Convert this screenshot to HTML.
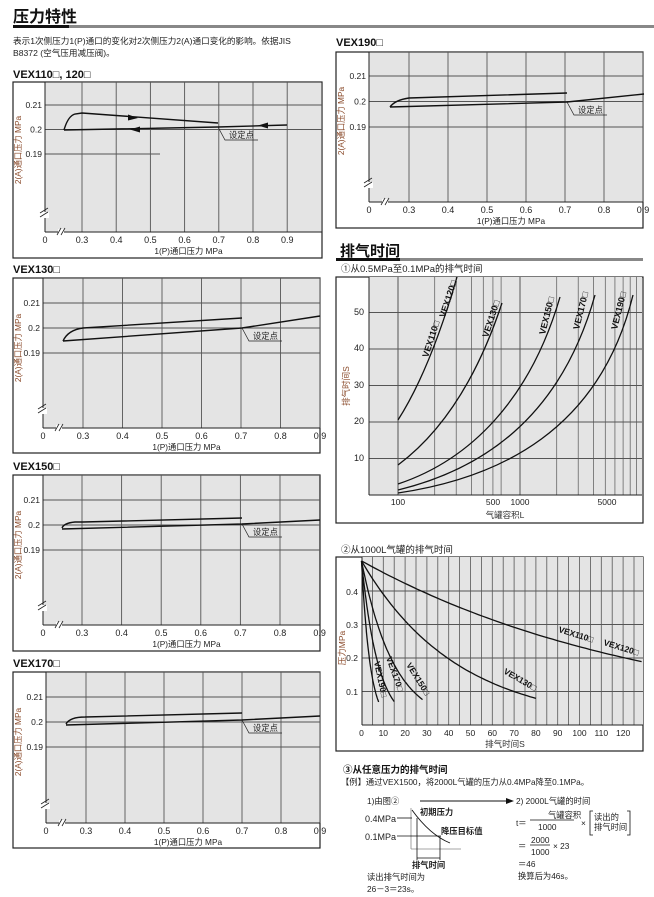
<!DOCTYPE html>
<html><head><meta charset="utf-8">
<style>
html,body{margin:0;padding:0;background:#fff;}
svg{display:block;font-family:"Liberation Sans","Noto Sans CJK SC",sans-serif;}
</style></head>
<body>
<svg id="s" width="654" height="897" viewBox="0 0 654 897" xmlns="http://www.w3.org/2000/svg">
<rect width="654" height="897" fill="#fff"/>
<text x="13" y="22" font-size="16" font-weight="bold" fill="#111">压力特性</text>
<rect x="13" y="25" width="56" height="3" fill="#111"/>
<rect x="69" y="25" width="585" height="3" fill="#888"/>
<text x="13" y="44" font-size="8.6" fill="#222">表示1次侧压力1(P)通口的变化对2次侧压力2(A)通口变化的影响。依据JIS</text>
<text x="13" y="56" font-size="8.6" fill="#222">B8372 (空气压用减压阀)。</text>
<text x="13" y="78" font-size="11" font-weight="bold" fill="#111">VEX110□, 120□</text>
<text x="13" y="273" font-size="11" font-weight="bold" fill="#111">VEX130□</text>
<text x="13" y="470" font-size="11" font-weight="bold" fill="#111">VEX150□</text>
<text x="13" y="667" font-size="11" font-weight="bold" fill="#111">VEX170□</text>
<text x="336" y="46" font-size="11" font-weight="bold" fill="#111">VEX190□</text>
<g id="pc"></g>

<text x="340" y="256" font-size="15" font-weight="bold" fill="#111">排气时间</text>
<rect x="336" y="258" width="64" height="3" fill="#111"/>
<rect x="400" y="258" width="243" height="3" fill="#888"/>

<text x="341" y="272" font-size="9.5" fill="#222">①从0.5MPa至0.1MPa的排气时间</text>
<rect x="336" y="277" width="307" height="246" fill="#fff" stroke="#222" stroke-width="1.2"/>
<rect x="369" y="277" width="273" height="218" fill="#e4e4e4"/>
<g id="ex1"></g>
<g fill="none" stroke="#111" stroke-width="1.3">
<path d="M398,420 Q430,370 457,277"/>
<path d="M398,465 Q465,415 502,303"/>
<path d="M398,484 C470,460 530,400 560,297"/>
<path d="M398,490 C480,470 560,420 595,295"/>
<path d="M398,493 C500,478 600,430 633,295"/>
</g>
<g font-size="9" font-weight="bold" fill="#111">
<text transform="translate(428,358) rotate(-72)">VEX110□</text>
<text transform="translate(445,318) rotate(-72)">VEX120□</text>
<text transform="translate(488,338) rotate(-72)">VEX130□</text>
<text transform="translate(545,335) rotate(-76)">VEX150□</text>
<text transform="translate(579,330) rotate(-76)">VEX170□</text>
<text transform="translate(617,330) rotate(-76)">VEX190□</text>
</g>
<g font-size="9" fill="#222" text-anchor="end">
<text x="364" y="315">50</text><text x="364" y="351">40</text><text x="364" y="388">30</text><text x="364" y="424">20</text><text x="364" y="461">10</text>
</g>
<g font-size="8.5" fill="#222" text-anchor="middle">
<text x="398" y="505">100</text><text x="493" y="505">500</text><text x="520" y="505">1000</text><text x="607" y="505">5000</text>
<text x="505" y="518" fill="#333">气罐容积L</text>
</g>
<text transform="translate(349,386) rotate(-90)" font-size="8.5" fill="#8a4a2a" text-anchor="middle">排气时间S</text>

<text x="341" y="553" font-size="9.5" fill="#222">②从1000L气罐的排气时间</text>
<rect x="336" y="557" width="307" height="194" fill="#fff" stroke="#222" stroke-width="1.2"/>
<rect x="362" y="557" width="281" height="168" fill="#e4e4e4"/>
<g id="ex2"></g>
<g font-size="8.5" font-weight="bold" fill="#111">
<text transform="translate(558,632) rotate(17)">VEX110□</text>
<text transform="translate(603,645) rotate(17)">VEX120□</text>
<text transform="translate(503,673) rotate(30)">VEX130□</text>
<text transform="translate(406,665) rotate(58)">VEX150□</text>
<text transform="translate(386,658) rotate(70)">VEX170□</text>
<text transform="translate(374,662) rotate(78)">VEX190□</text>
</g>
<g font-size="8.5" fill="#222" text-anchor="end">
<text x="358" y="595">0.4</text><text x="358" y="628">0.3</text><text x="358" y="661">0.2</text><text x="358" y="695">0.1</text>
</g>
<g id="ex2x" font-size="8.5" fill="#222" text-anchor="middle"></g>
<text x="505" y="747" font-size="8.5" fill="#333" text-anchor="middle">排气时间S</text>
<text transform="translate(345,648) rotate(-90)" font-size="8.5" fill="#8a4a2a" text-anchor="middle">压力MPa</text>

<text x="343" y="773" font-size="9.5" font-weight="bold" fill="#111">③从任意压力的排气时间</text>
<text x="341" y="785" font-size="8.3" fill="#222">【例】通过VEX1500，将2000L气罐的压力从0.4MPa降至0.1MPa。</text>
<g font-size="8.3" fill="#222">
<text x="367" y="804">1)由图②</text>
<line x1="420" y1="801" x2="510" y2="801" stroke="#111" stroke-width="1"/>
<path d="M514,801 L506,798 L506,804Z" fill="#111"/>
<text x="516" y="804">2) 2000L气罐的时间</text>
<line x1="411" y1="808" x2="411" y2="849" stroke="#888" stroke-width="0.8"/>
<line x1="411" y1="849" x2="461" y2="849" stroke="#888" stroke-width="0.8"/>
<path d="M412,810 Q430,835 450,843" fill="none" stroke="#111" stroke-width="0.9"/>
<text x="365" y="822" font-size="9">0.4MPa</text><line x1="397" y1="818" x2="412" y2="818" stroke="#111" stroke-width="0.8"/>
<text x="420" y="815" font-weight="bold">初期压力</text>
<text x="365" y="840" font-size="9">0.1MPa</text><line x1="397" y1="836" x2="441" y2="836" stroke="#111" stroke-width="0.8"/>
<text x="441" y="834" font-weight="bold">降压目标值</text>
<path d="M417,818 V860 M440,836 V860 M417,858 H440" fill="none" stroke="#111" stroke-width="0.8"/>
<text x="412" y="868" font-weight="bold">排气时间</text>
<text x="367" y="880">读出排气时间为</text>
<text x="367" y="892">26－3＝23s。</text>
<text x="516" y="826">t＝</text>
<text x="548" y="818">气罐容积</text>
<line x1="530" y1="820" x2="574" y2="820" stroke="#111" stroke-width="0.8"/>
<text x="538" y="830">1000</text>
<text x="581" y="826">×</text>
<path d="M593,811 H590 V835 H593 M627,811 H630 V835 H627" fill="none" stroke="#111" stroke-width="0.8"/>
<text x="594" y="820">读出的</text><text x="594" y="830">排气时间</text>
<text x="518" y="849">＝</text>
<text x="531" y="843">2000</text>
<line x1="530" y1="845" x2="550" y2="845" stroke="#111" stroke-width="0.8"/>
<text x="531" y="855">1000</text>
<text x="553" y="849">× 23</text>
<text x="518" y="867">＝46</text>
<text x="518" y="879">换算后为46s。</text>
</g>
</svg>
<script>
(function(){
var NS="http://www.w3.org/2000/svg";
function el(p,t,a,txt){var e=document.createElementNS(NS,t);for(var k in a)e.setAttribute(k,a[k]);if(txt!==undefined)e.textContent=txt;p.appendChild(e);return e;}
var pc=document.getElementById('pc');
function pchart(o){
 var g=el(pc,'g',{});
 el(g,'rect',{x:o.bx,y:o.by,width:o.bw,height:o.bh,fill:'#fff',stroke:'#222','stroke-width':1.2});
 el(g,'rect',{x:o.ax,y:o.by+0.6,width:o.bx+o.bw-o.ax-0.6,height:o.xa-o.by,fill:'#e4e4e4'});
 var right=o.bx+o.bw;
 for(var i=0;i<7;i++){var x=o.x03+i*o.dx; if(x>right+1.5)continue;
   el(g,'line',{x1:x,y1:o.by,x2:x,y2:o.xa,stroke:'#555','stroke-width':0.9});
   el(g,'text',{x:x,y:o.xa+11,'font-size':9,'text-anchor':'middle',fill:'#222'},(0.3+i*0.1).toFixed(1));}
 var yl=['0.21','0.2','0.19'];
 for(var j=0;j<3;j++){var y=o.y21+j*o.dy;
   el(g,'line',{x1:o.ax,y1:y,x2:(j==2&&o.short?o.short:right),y2:y,stroke:'#555','stroke-width':0.9});
   el(g,'text',{x:o.ax-3,y:y+3,'font-size':8.5,'text-anchor':'end',fill:'#222'},yl[j]);}
 el(g,'line',{x1:o.ax,y1:o.by,x2:o.ax,y2:o.xa,stroke:'#222','stroke-width':1});
 el(g,'line',{x1:o.ax,y1:o.xa,x2:right,y2:o.xa,stroke:'#222','stroke-width':1});
 el(g,'rect',{x:o.ax-4,y:o.xa-20,width:8,height:6,fill:'#fff'});
 el(g,'path',{d:'M'+(o.ax-5)+','+(o.xa-15)+' l8,-5 M'+(o.ax-5)+','+(o.xa-19)+' l8,-5',stroke:'#222','stroke-width':0.8,fill:'none'});
 el(g,'rect',{x:o.ax+13,y:o.xa-3,width:6,height:6,fill:'#fff'});
 el(g,'path',{d:'M'+(o.ax+12)+','+(o.xa+3)+' l4,-7 M'+(o.ax+16)+','+(o.xa+3)+' l4,-7',stroke:'#222','stroke-width':0.8,fill:'none'});
 el(g,'text',{x:o.ax,y:o.xa+11,'font-size':9,'text-anchor':'middle',fill:'#222'},'0');
 el(g,'text',{x:(o.ax+right)/2+5,y:o.xa+22,'font-size':8.3,'text-anchor':'middle',fill:'#222'},'1(P)通口压力 MPa');
 el(g,'text',{transform:'translate('+(o.bx+8)+','+(o.y21+45)+') rotate(-90)','font-size':8.3,'text-anchor':'middle',fill:'#8a4a2a'},'2(A)通口压力 MPa');
 el(g,'path',{d:o.curve,fill:'none',stroke:'#111','stroke-width':1.4});
 el(g,'path',{d:'M'+o.sp[0]+','+o.sp[1]+' L'+(o.sp[0]+7)+','+(o.sp[1]+13)+' H'+(o.sp[0]+40),fill:'none',stroke:'#222','stroke-width':0.7});
 el(g,'text',{x:o.sp[0]+11,y:o.sp[1]+11,'font-size':8.3,fill:'#222'},'设定点');
 if(o.arrows)o.arrows.forEach(function(a){el(g,'path',{d:a,fill:'#111'});});
}
pchart({bx:13,by:82,bw:309,bh:176,ax:45,x03:82,dx:34.2,xa:232,y21:105,dy:24.5,short:160,
 curve:'M64,130 Q68,116 75,114 L82,113 L218,123 M64,130 L218,127 L287,125',sp:[218,127],
 arrows:['M138,118 L128,114.5 L128,120.5Z','M130,129.5 L140,126.5 L140,132.5Z','M258,125.5 L268,122.5 L268,128.5Z']});
pchart({bx:13,by:278,bw:307,bh:175,ax:43,x03:83,dx:39.5,xa:428,y21:303,dy:25,
 curve:'M63,341 Q68,330 83,328 L242,318 M63,341 L242,328 L320,316',sp:[242,328]});
pchart({bx:13,by:475,bw:307,bh:176,ax:43,x03:82,dx:39.6,xa:625,y21:500,dy:25,
 curve:'M62,528 Q64,523 75,522 L83,522 L242,518 M62,529 L242,524 L320,520',sp:[242,524]});
pchart({bx:13,by:672,bw:307,bh:176,ax:46,x03:86,dx:39,xa:823,y21:697,dy:25,
 curve:'M66,724 Q70,717 85,717 L242,713 M66,725 L242,720 L320,716',sp:[242,720]});
pchart({bx:336,by:52,bw:307,bh:176,ax:369,x03:409,dx:39,xa:202,y21:76,dy:25.5,
 curve:'M390,107 Q395,100 409,98 L567,93 M390,107 L567,102 L644,94',sp:[567,102]});
var ex1=document.getElementById('ex1');
function lx(v){return 398+122*Math.log10(v/100);}
var vs=[100,200,300,400,500,600,700,1000,2000,3000,4000,5000,6000,7000,8000,9000];
vs.forEach(function(v){var x=lx(v);if(x<642)el(ex1,'line',{x1:x,y1:277,x2:x,y2:495,stroke:'#555','stroke-width':(v==100||v==1000)?1:0.7});});
[10,20,30,40,50].forEach(function(v){var y=495-v*3.65;el(ex1,'line',{x1:369,y1:y,x2:642,y2:y,stroke:'#555','stroke-width':0.9});});
el(ex1,'line',{x1:369,y1:277,x2:369,y2:495,stroke:'#222','stroke-width':1});
el(ex1,'line',{x1:369,y1:495,x2:642,y2:495,stroke:'#222','stroke-width':1});
var ex2=document.getElementById('ex2');
function tx(t){return 361.5+t*2.18;} function py(p){return 725-p*335;}
for(var t=5;t<=128;t+=5){el(ex2,'line',{x1:tx(t),y1:557,x2:tx(t),y2:725,stroke:'#555','stroke-width':0.8});}
[0.1,0.2,0.3,0.4].forEach(function(p){el(ex2,'line',{x1:362,y1:py(p),x2:643,y2:py(p),stroke:'#555','stroke-width':0.9});});
el(ex2,'line',{x1:362,y1:557,x2:362,y2:725,stroke:'#222','stroke-width':1});
el(ex2,'line',{x1:362,y1:725,x2:643,y2:725,stroke:'#222','stroke-width':1});
var ex2x=document.getElementById('ex2x');
for(var t=0;t<=120;t+=10){el(ex2x,'text',{x:tx(t),y:736},''+t);}
[[135,128.5],[44,80],[15,28],[7.7,15],[4,8]].forEach(function(c){
 var d='';for(var t=0;t<=c[1];t+=c[1]/60){var p=0.49*Math.exp(-t/c[0]);d+=(d?'L':'M')+tx(t).toFixed(1)+','+py(p).toFixed(1);}
 el(ex2,'path',{d:d,fill:'none',stroke:'#111','stroke-width':1.3});});
})();
</script>
</body></html>
